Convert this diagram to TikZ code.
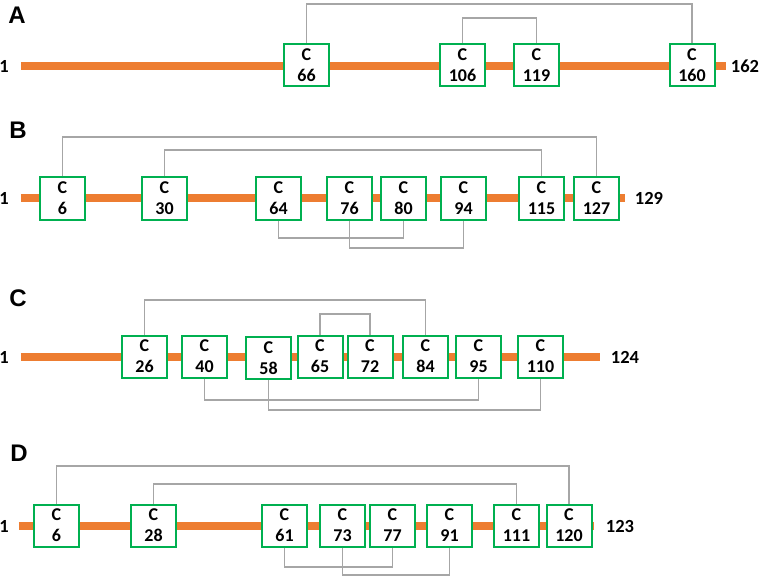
\documentclass[tikz,border=0pt]{standalone}
\usepackage{fontspec}
\setmainfont{Carlito}
\newfontfamily\panelfont{Liberation Sans}
\usetikzlibrary{positioning,calc}
\definecolor{chainorange}{HTML}{ED7D31}
\definecolor{boxgreen}{HTML}{00B050}
\definecolor{bondgrey}{HTML}{A6A6A6}

\begin{document}
\begin{tikzpicture}[x=1pt, y=-1pt,
  panel/.style={font=\panelfont\bfseries\fontsize{24}{24}\selectfont, inner sep=0pt},
  endlbl/.style={font=\bfseries\fontsize{18.5}{18.5}\selectfont, inner sep=0pt},
  chain/.style={draw=chainorange, line width=7.5pt},
  cbox/.style={draw=boxgreen, line width=2pt, fill=white, minimum width=45pt,
               minimum height=42pt, inner sep=0pt, align=center,
               font=\bfseries\fontsize{18}{21}\selectfont},
  bond/.style={draw=bondgrey, line width=1.6pt}]

  \useasboundingbox (0,0) rectangle (759,577);

  % panel A
  \node[panel]  (lA)   at (17,15)  {A};
  \node[endlbl] (a1)   at (4,66)   {1};
  \node[endlbl] (a162) at (745,66) {162};
  \draw[chain] ([xshift=12pt]a1.east) -- ([xshift=-5pt]a162.west);
  \foreach \n/\x in {66/306.5, 106/462.5, 119/536.5, 160/692}
    \node[cbox] (a\n) at (\x,65) {C\\\n};
  \draw[bond] (a66.north)  -- ++(0,-39) -| (a160.north);
  \draw[bond] (a106.north) -- ++(0,-25) -| (a119.north);

  % panel B
  \node[panel]  (lB)   at (18,130)  {B};
  \node[endlbl] (b1)   at (4,198)   {1};
  \node[endlbl] (b129) at (649,198) {129};
  \draw[chain] ([xshift=12pt]b1.east) -- ([xshift=-10pt]b129.west);
  \foreach \n/\x in {6/62.5, 30/164.5, 64/278.5, 76/349.5, 80/403.5,
                     94/463.5, 115/541.5, 127/596.5}
    \node[cbox] (b\n) at (\x,198.5) {C\\\n};
  \draw[bond] (b6.north)  -- ++(0,-39.5) -| (b127.north);
  \draw[bond] (b30.north) -- ++(0,-26.5) -| (b115.north);
  \draw[bond] (b64.south) -- ++(0,17.5)  -| (b80.south);
  \draw[bond] (b76.south) -- ++(0,27.5)  -| (b94.south);

  % panel C
  \node[panel]  (lC)   at (18,298)  {C};
  \node[endlbl] (c1)   at (4,357)   {1};
  \node[endlbl] (c124) at (625,357) {124};
  \draw[chain] ([xshift=12pt]c1.east) -- ([xshift=-11pt]c124.west);
  \foreach \n/\x/\y in {26/144.5/356.5, 40/204.5/356.5, 58/268.5/358,
                        65/320/356.5, 72/370/356.5, 84/425.5/356.5,
                        95/478.5/356.5, 110/540.5/356.5}
    \node[cbox] (c\n) at (\x,\y) {C\\\n};
  \draw[bond] (c26.north) -- ++(0,-34.5) -| (c84.north);
  \draw[bond] (c65.north) -- ++(0,-20.5) -| (c72.north);
  \draw[bond] (c40.south) -- ++(0,21.5)  -| (c95.south);
  \draw[bond] (c58.south) -- ++(0,30)    -| (c110.south);

  % panel D
  \node[panel]  (lD)   at (19,453)  {D};
  \node[endlbl] (d1)   at (4,526)   {1};
  \node[endlbl] (d123) at (620,526) {123};
  \draw[chain] ([xshift=10pt]d1.east) -- ([xshift=-12pt]d123.west);
  \foreach \n/\x in {6/56.5, 28/153.5, 61/284.5, 73/342.5, 77/392.5,
                     91/449.5, 111/516.5, 120/569}
    \node[cbox] (d\n) at (\x,525.5) {C\\\n};
  \draw[bond] (d6.north)  -- ++(0,-37.5) -| (d120.north);
  \draw[bond] (d28.north) -- ++(0,-19.5) -| (d111.north);
  \draw[bond] (d61.south) -- ++(0,19.5)  -| (d77.south);
  \draw[bond] (d73.south) -- ++(0,27.5)  -| (d91.south);

\end{tikzpicture}
\end{document}
